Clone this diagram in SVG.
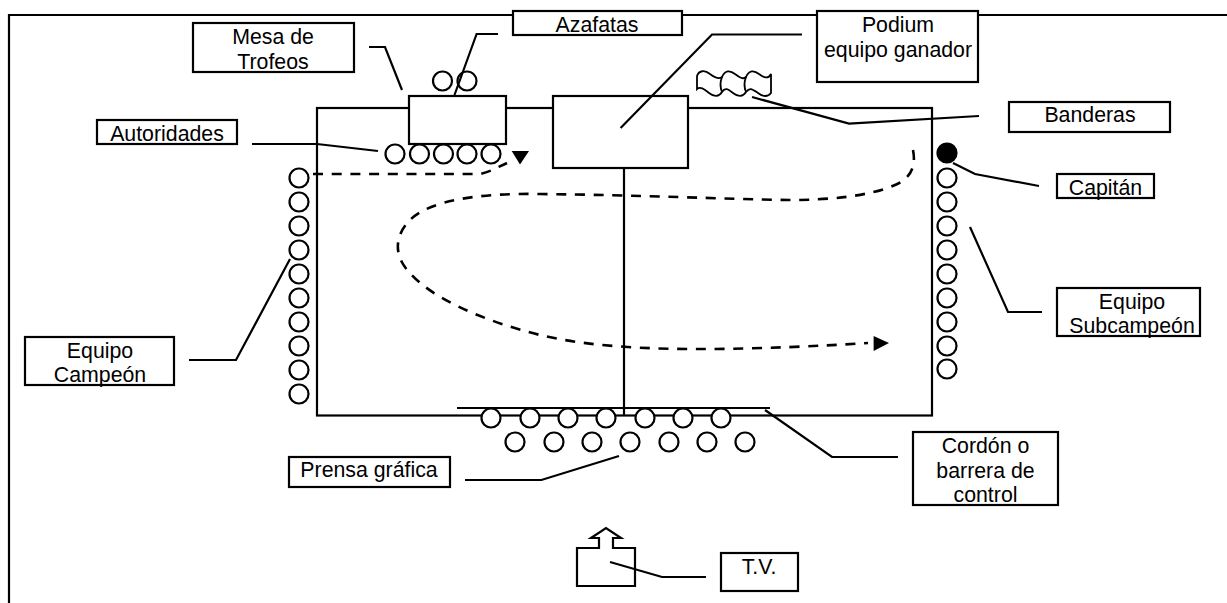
<svg xmlns="http://www.w3.org/2000/svg" width="1227" height="603" viewBox="0 0 1227 603">
<defs>
<style>
.s{fill:none;stroke:#000;stroke-width:2.200}
.f{fill:#fff;stroke:#000;stroke-width:2.200}
.t{fill:none;stroke:#000;stroke-width:1.800}
.d{fill:none;stroke:#000;stroke-width:2.600;stroke-dasharray:10 8.700}
.a{fill:#000;stroke:none}
text{font-family:"Liberation Sans",Arial,sans-serif;font-size:21.300px;fill:#000;text-anchor:middle}
</style>
<circle id="c" r="9.500" class="f"/>
</defs>
<rect width="1227" height="603" fill="#fff"/>
<g id="frame"><path class="s" d="M9 603V15H1227"/></g>
<g id="field"><rect class="s" x="317" y="108" width="615" height="307.500"/><path class="s" d="M624 168V415.500"/></g>
<g id="table"><rect class="f" x="409" y="96" width="97" height="48"/></g>
<g id="podium"><rect class="f" x="553" y="96" width="135" height="72"/></g>
<g id="flags"><path class="t" d="M697 76C699 70 705 70 710 74C714 77 719 80 722 77C725 70 730 70 735 74C739 77 743 80 746 77C749 70 754 70 759 74C763 77 768 80 771 74V93C768 97 763 97 758 93C752 89 750 87 746 92C743 97 738 97 733 93C728 89 725 87 722 92C719 97 714 97 709 93C704 89 700 86 697 89Z"/><path class="t" d="M722 77C720 82 720 87 722 92M746 77C744 82 744 87 746 92"/></g>
<g id="tv"><path class="s" d="M577 548H599V538H591L606 528L621 538H613V548H635V586H577Z"/></g>
<g id="azafatas-circles"><use href="#c" x="442.500" y="81"/><use href="#c" x="467" y="81"/></g>
<g id="autoridades-circles"><use href="#c" x="395" y="154"/><use href="#c" x="419.500" y="154"/><use href="#c" x="443.500" y="154"/><use href="#c" x="467" y="154"/><use href="#c" x="491" y="154"/></g>
<g id="campeon-circles"><use href="#c" x="299" y="178"/><use href="#c" x="299" y="202"/><use href="#c" x="299" y="226"/><use href="#c" x="299" y="250"/><use href="#c" x="299" y="274"/><use href="#c" x="299" y="298"/><use href="#c" x="299" y="322"/><use href="#c" x="299" y="346"/><use href="#c" x="299" y="370"/><use href="#c" x="299" y="394"/></g>
<g id="capitan-circle"><circle cx="947" cy="153" r="9.500" fill="#000" stroke="#000" stroke-width="2.200"/></g>
<g id="subcampeon-circles"><use href="#c" x="947" y="178"/><use href="#c" x="947" y="202"/><use href="#c" x="947" y="226"/><use href="#c" x="947" y="250"/><use href="#c" x="947" y="274"/><use href="#c" x="947" y="298"/><use href="#c" x="947" y="322"/><use href="#c" x="947" y="346"/><use href="#c" x="947" y="369"/></g>
<g id="connectors">
<path class="s" d="M457 408H770"/>
<path class="s" d="M369 47H385L402 90"/>
<path class="s" d="M498 34H476.600L454.500 95"/>
<path class="s" d="M252 144H317L378 151"/>
<path class="s" d="M802 34.500H712L620.600 128"/>
<path class="s" d="M752 97L849 123.600L979 116"/>
<path class="s" d="M953 163L975 174L1039 186"/>
<path class="s" d="M970 227L1008 312H1042"/>
<path class="s" d="M290 259L236 360H189"/>
<path class="s" d="M619 456L541.400 480H465"/>
<path class="s" d="M765 410L832 457H898"/>
<path class="s" d="M610 562L662 577H706"/>
<path class="d" d="M313 174H480C490 172 498 167 507 163"/>
<path class="a" d="M511.700 151H529L520 164.500Z"/>
<path class="d" d="M913 150C916 165 912 178 895 185C870 196 830 200 790 200C720 199 640 195 540 194C480 193 430 200 410 220C395 235 393 255 409 272C430 297 480 320 540 335C590 347 650 349 700 349C760 349 820 346 868 343"/>
<path class="a" d="M873.600 336L889 343L873.600 351Z"/>
</g>
<g id="press-circles"><use href="#c" x="491" y="418"/><use href="#c" x="530" y="418"/><use href="#c" x="568" y="418"/><use href="#c" x="606" y="418"/><use href="#c" x="645" y="418"/><use href="#c" x="683" y="418"/><use href="#c" x="721" y="418"/><use href="#c" x="515" y="442"/><use href="#c" x="554" y="442"/><use href="#c" x="592" y="442"/><use href="#c" x="630" y="442"/><use href="#c" x="669" y="442"/><use href="#c" x="707" y="442"/><use href="#c" x="745" y="442"/></g>
<g id="mesa"><rect class="f" x="193" y="23" width="161" height="49"/><text x="273" y="44">Mesa de</text><text x="273" y="69">Trofeos</text></g>
<g id="autoridades"><rect class="f" x="97" y="120" width="140" height="24"/><text x="167" y="141">Autoridades</text></g>
<g id="azafatas"><rect class="f" x="513" y="11" width="169" height="24"/><text x="597" y="32">Azafatas</text></g>
<g id="podium-label"><rect class="f" x="817" y="11" width="161" height="71"/><text x="898" y="32">Podium</text><text x="898" y="57">equipo ganador</text></g>
<g id="banderas"><rect class="f" x="1009" y="102" width="161" height="30"/><text x="1090" y="122">Banderas</text></g>
<g id="capitan"><rect class="f" x="1057" y="174" width="97" height="24"/><text x="1105.500" y="195">Capitán</text></g>
<g id="subcampeon"><rect class="f" x="1057" y="288" width="143" height="48"/><text x="1132" y="309">Equipo</text><text x="1132" y="333">Subcampeón</text></g>
<g id="campeon"><rect class="f" x="25" y="337" width="149" height="48"/><text x="100" y="358">Equipo</text><text x="100" y="382">Campeón</text></g>
<g id="prensa"><rect class="f" x="289" y="457" width="161" height="30"/><text x="369" y="477">Prensa gráfica</text></g>
<g id="cordon"><rect class="f" x="913" y="432" width="145" height="73"/><text x="985.500" y="453">Cordón o</text><text x="985.500" y="478">barrera de</text><text x="985.500" y="502">control</text></g>
<g id="tvlabel"><rect class="f" x="721" y="553" width="77" height="38"/><text x="759" y="574">T.V.</text></g>
</svg>
